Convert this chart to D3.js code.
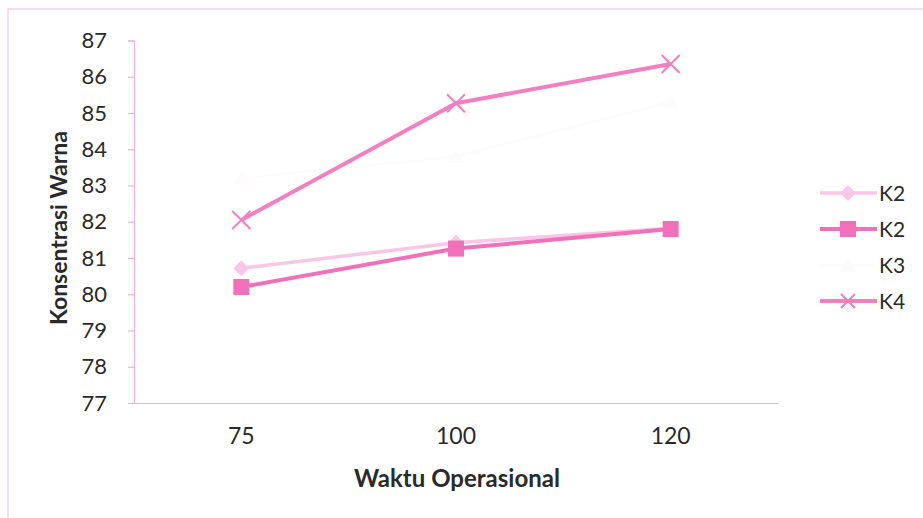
<!DOCTYPE html>
<html><head><meta charset="utf-8">
<script src="https://cdn.jsdelivr.net/npm/d3@7"></script>
<style>body{margin:0;background:#fff}svg{display:block}</style>
</head><body>
<svg id="c" width="923" height="518"></svg>
<script>
const categories = ["75","100","120"];
const seriesNames = ["K2","K2","K3","K4"];
const k2aValues = [80.72, 81.42, 81.82];
const k2bValues = [80.2, 81.26, 81.8];
const k3Values = [83.2, 83.8, 85.3];
const k4Values = [82.05, 85.27, 86.35];
const yTicks = [77,78,79,80,81,82,83,84,85,86,87];
const xTitle = "Waktu Operasional";
const yTitle = "Konsentrasi Warna";

const series = [
  {name: seriesNames[0], values: k2aValues, color: "#f8c6e6", width: 3.5, marker: "diamond"},
  {name: seriesNames[1], values: k2bValues, color: "#f070b9", width: 4, marker: "square"},
  {name: seriesNames[2], values: k3Values, color: "#fefbfd", width: 3, marker: "triangle"},
  {name: seriesNames[3], values: k4Values, color: "#f27fc2", width: 4, marker: "x"}
];

const svg = d3.select("#c");
const font = "Lato, 'Open Sans', sans-serif";
const axisColor = "#eab0dc";
const textColor = "#2a2a2a";

// outer frame
svg.append("rect").attr("x", 8).attr("y", 9).attr("width", 940).attr("height", 540)
  .attr("fill", "none").attr("stroke", "#efc8ee").attr("stroke-width", 1.2);

const x = d3.scaleBand().domain(categories).range([134, 778]);
const y = d3.scaleLinear().domain([77, 87]).range([403, 40.5]);

const gy = svg.append("g").attr("transform", "translate(134,0)")
  .call(d3.axisLeft(y).tickValues(yTicks).tickSize(6).tickPadding(21).tickFormat(d3.format("d")));
gy.select(".domain").attr("stroke", axisColor).attr("stroke-width", 1.2);
gy.selectAll(".tick line").attr("stroke", axisColor).attr("stroke-width", 1.2);
gy.selectAll(".tick text").attr("font-family", font).attr("font-size", 22).attr("fill", textColor);

const gx = svg.append("g").attr("transform", "translate(0,403)")
  .call(d3.axisBottom(x).tickSize(0).tickPadding(25));
gx.select(".domain").attr("stroke", axisColor).attr("stroke-width", 1.2);
gx.selectAll(".tick text").attr("font-family", font).attr("font-size", 23).attr("fill", textColor);

svg.append("text").attr("x", 457).attr("y", 487).attr("text-anchor", "middle")
  .attr("font-family", font).attr("font-weight", "bold").attr("font-size", 24).attr("fill", textColor)
  .text(xTitle);
svg.append("text").attr("transform", "translate(67,228) rotate(-90)").attr("text-anchor", "middle")
  .attr("font-family", font).attr("font-weight", "bold").attr("font-size", 23).attr("fill", textColor)
  .text(yTitle);

function drawMarker(g, type, cx, cy, color, s) {
  s = s || 8;
  if (type === "square") {
    g.append("rect").attr("x", cx - s).attr("y", cy - s).attr("width", 2 * s).attr("height", 2 * s).attr("fill", color);
  } else if (type === "diamond") {
    g.append("path").attr("d", `M${cx},${cy-s}L${cx+s},${cy}L${cx},${cy+s}L${cx-s},${cy}Z`).attr("fill", color);
  } else if (type === "triangle") {
    g.append("path").attr("d", `M${cx},${cy-s}L${cx+s},${cy+s*0.8}L${cx-s},${cy+s*0.8}Z`).attr("fill", color);
  } else if (type === "x") {
    g.append("path").attr("d", `M${cx-s-1},${cy-s-1}L${cx+s+1},${cy+s+1}M${cx+s+1},${cy-s-1}L${cx-s-1},${cy+s+1}`)
      .attr("stroke", color).attr("stroke-width", 2);
  }
}

const line = d3.line().x((d, i) => x(categories[i]) + x.bandwidth() / 2).y(d => y(d));
const plot = svg.append("g");
series.forEach(s => {
  const g = plot.append("g");
  g.append("path").attr("d", line(s.values)).attr("fill", "none")
    .attr("stroke", s.color).attr("stroke-width", s.width).attr("stroke-linejoin", "round");
  s.values.forEach((v, i) => drawMarker(g, s.marker, x(categories[i]) + x.bandwidth() / 2, y(v), s.color));
});

// legend
const legY = d3.scalePoint().domain(d3.range(series.length)).range([193, 301]);
series.forEach((s, i) => {
  const g = svg.append("g");
  const ly = legY(i);
  g.append("line").attr("x1", 820).attr("x2", 877).attr("y1", ly).attr("y2", ly)
    .attr("stroke", s.color).attr("stroke-width", s.width);
  drawMarker(g, s.marker, 848, ly, s.color, s.marker === "x" ? 6 : 8);
  g.append("text").attr("x", 879).attr("y", ly + 8).attr("font-family", font).attr("font-size", 21)
    .attr("fill", textColor).text(s.name);
});
</script>
</body></html>
